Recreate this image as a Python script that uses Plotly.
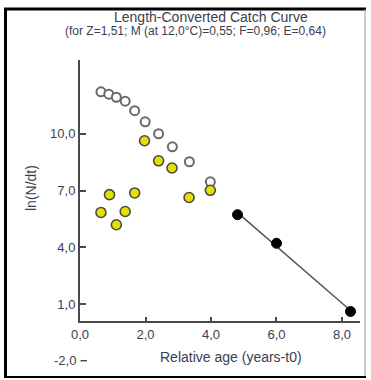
import numpy as np
import plotly.graph_objects as go

# ---------------- data ----------------
age_open = [0.64, 0.88, 1.11, 1.38, 1.67, 1.99, 2.40, 2.82, 3.34, 3.98]
lnN_open = [12.22, 12.09, 11.93, 11.72, 11.22, 10.63, 10.00, 9.31, 8.52, 7.46]

age_yellow = [0.64, 0.90, 1.11, 1.38, 1.67, 1.97, 2.40, 2.81, 3.33, 3.98]
lnN_yellow = [5.84, 6.78, 5.19, 5.89, 6.87, 9.63, 8.57, 8.19, 6.63, 7.01]

age_used = [4.81, 6.00, 8.26]
lnN_used = [5.72, 4.21, 0.60]

x_tickvals = [0, 2, 4, 6, 8]
x_ticktext = ["0,0", "2,0", "4,0", "6,0", "8,0"]
y_tickvals = [1, 4, 7, 10]
y_ticktext = ["1,0", "4,0", "7,0", "10,0"]
y_extra_tick = -2
y_extra_text = "-2,0"

title = "Length-Converted Catch Curve"
subtitle = "(for Z=1,51; M (at 12,0°C)=0,55; F=0,96; E=0,64)"
x_title = "Relative age (years-t0)"
y_title = "ln(N/dt)"

# ---------------- layout geometry ----------------
W, H = 371, 380
L, R, T, B = 80, 11, 60, 59
XR = [0, 8.55]
YR = [0.1, 13.9]
PW, PH = W - L - R, H - T - B


def px_x(px):
    return (px - L) / PW


def px_y(py):
    return (H - B - py) / PH


FONT = "Liberation Sans, Arial, sans-serif"
TXT = "#3b4050"
AX = "#4a4a4a"

# regression through used points
slope, intercept = np.polyfit(age_used, lnN_used, 1)
xl = np.array([min(age_used), max(age_used)])
yl = intercept + slope * xl

fig = go.Figure()
fig.add_trace(go.Scatter(x=xl, y=yl, mode="lines",
                         line=dict(color="#555555", width=1.5),
                         hoverinfo="skip", showlegend=False))
fig.add_trace(go.Scatter(x=age_open, y=lnN_open, mode="markers",
                         marker=dict(symbol="circle", size=9, color="white",
                                     line=dict(color="#6a6a6a", width=2)),
                         showlegend=False))
fig.add_trace(go.Scatter(x=age_yellow, y=lnN_yellow, mode="markers",
                         marker=dict(symbol="circle", size=10, color="#e6e000",
                                     line=dict(color="#4a4a4a", width=1.6)),
                         showlegend=False))
fig.add_trace(go.Scatter(x=age_used, y=lnN_used, mode="markers",
                         marker=dict(symbol="circle", size=10, color="black",
                                     line=dict(color="black", width=1)),
                         showlegend=False))

shapes = [
    # outer frame
    dict(type="line", xref="paper", yref="paper", x0=px_x(5.5), x1=px_x(5.5),
         y0=px_y(8), y1=px_y(378), line=dict(color="black", width=3)),
    dict(type="line", xref="paper", yref="paper", x0=px_x(4), x1=px_x(366),
         y0=px_y(9), y1=px_y(9), line=dict(color="black", width=3)),
    dict(type="line", xref="paper", yref="paper", x0=px_x(365), x1=px_x(365),
         y0=px_y(9), y1=px_y(377), line=dict(color="#9a9a9a", width=1)),
    dict(type="line", xref="paper", yref="paper", x0=px_x(4), x1=px_x(366),
         y0=px_y(377), y1=px_y(377), line=dict(color="black", width=2)),
]
# extra tick below the x axis (-2,0)
y_m2_px = (H - B) + (YR[0] - y_extra_tick) * (PH / (YR[1] - YR[0]))
shapes.append(dict(type="line", xref="paper", yref="paper",
                   x0=px_x(80.5), x1=px_x(87), y0=px_y(y_m2_px), y1=px_y(y_m2_px),
                   line=dict(color=AX, width=1.5)))

annotations = [
    dict(text=title, xref="paper", yref="paper", x=px_x(211), y=px_y(17),
         xanchor="center", yanchor="middle", showarrow=False, borderpad=0,
         font=dict(family=FONT, size=14, color=TXT)),
    dict(text=subtitle, xref="paper", yref="paper", x=px_x(195), y=px_y(31.5),
         xanchor="center", yanchor="middle", showarrow=False, borderpad=0,
         font=dict(family=FONT, size=12, color=TXT)),
    dict(text=y_extra_text, xref="paper", yref="paper", x=px_x(78), y=px_y(y_m2_px),
         xanchor="right", yanchor="middle", showarrow=False,
         font=dict(family=FONT, size=13, color=TXT)),
    dict(text=x_title, xref="paper", yref="paper", x=px_x(231), y=px_y(357),
         xanchor="center", yanchor="middle", showarrow=False,
         font=dict(family=FONT, size=14, color=TXT)),
    dict(text=y_title, xref="paper", yref="paper", x=px_x(31), y=px_y(188),
         xanchor="center", yanchor="middle", showarrow=False, textangle=-90,
         font=dict(family=FONT, size=14, color=TXT)),
]

fig.update_layout(
    width=W, height=H,
    margin=dict(l=L, r=R, t=T, b=B, pad=0),
    paper_bgcolor="white", plot_bgcolor="white",
    shapes=shapes, annotations=annotations,
    xaxis=dict(range=XR, showgrid=False, zeroline=False, showline=True,
               linecolor=AX, linewidth=2, ticks="inside", ticklen=4,
               tickcolor=AX, tickwidth=1.5, tickvals=x_tickvals, ticktext=x_ticktext,
               tickfont=dict(family=FONT, size=13, color=TXT)),
    yaxis=dict(range=YR, showgrid=False, zeroline=False, showline=True,
               linecolor=AX, linewidth=2, ticks="inside", ticklen=6,
               tickcolor=AX, tickwidth=1.5, tickvals=y_tickvals, ticktext=y_ticktext,
               tickfont=dict(family=FONT, size=13, color=TXT)),
)

fig.write_html("out.html", config={"displayModeBar": False},
               post_script="document.body.style.margin='0';document.body.style.padding='0';")
